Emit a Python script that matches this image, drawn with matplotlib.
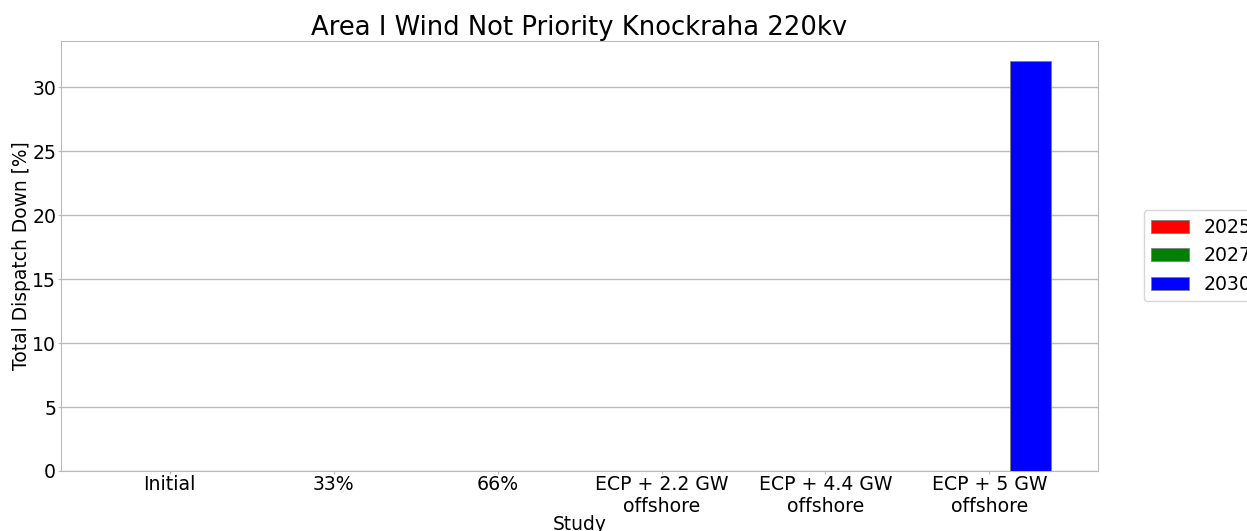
import matplotlib
matplotlib.use('Agg')
import matplotlib.pyplot as plt
import numpy as np

# data
studies = ['Initial', '33%', '66%', 'ECP + 2.2 GW\noffshore',
           'ECP + 4.4 GW\noffshore', 'ECP + 5 GW\noffshore']
years = ['2025', '2027', '2030']
vals_2025 = [0, 0, 0, 0, 0, 0]
vals_2027 = [0, 0, 0, 0, 0, 0]
vals_2030 = [0, 0, 0, 0, 0, 32.0]
colors = ['red', 'green', 'blue']

fig = plt.figure(figsize=(12.47, 5.31), dpi=100)
ax = fig.add_axes([0.049, 0.113, 0.8315, 0.8098])

x = np.arange(len(studies))
width = 0.25
for i, (vals, lab, col) in enumerate(zip([vals_2025, vals_2027, vals_2030], years, colors)):
    ax.bar(x + (i - 1) * width, vals, width, label=lab, color=col,
           edgecolor='grey', linewidth=0.6, zorder=3)

ax.set_xticks(x)
ax.set_xticklabels(studies, fontsize=13.6)
ax.tick_params(axis='y', labelsize=13.6, color='#bbbbbb', length=2, pad=1.5)
ax.tick_params(axis='x', color='#bbbbbb', length=2, pad=1)
ax.yaxis.grid(True, color='#bbbbbb', linewidth=1, zorder=0)
ax.set_axisbelow(True)
for s in ax.spines.values():
    s.set_color('#bbbbbb')

ax.set_title('Area I Wind Not Priority Knockraha 220kv', fontsize=18.6, pad=4)
ax.set_ylabel('Total Dispatch Down [%]', fontsize=13.4, labelpad=1)
ax.set_xlabel('Study', fontsize=13.4, labelpad=-1)

ax.legend(loc='center left', bbox_to_anchor=(1.044, 0.5), borderaxespad=0,
          fontsize=13.6)

fig.savefig('out.png', dpi=100)
